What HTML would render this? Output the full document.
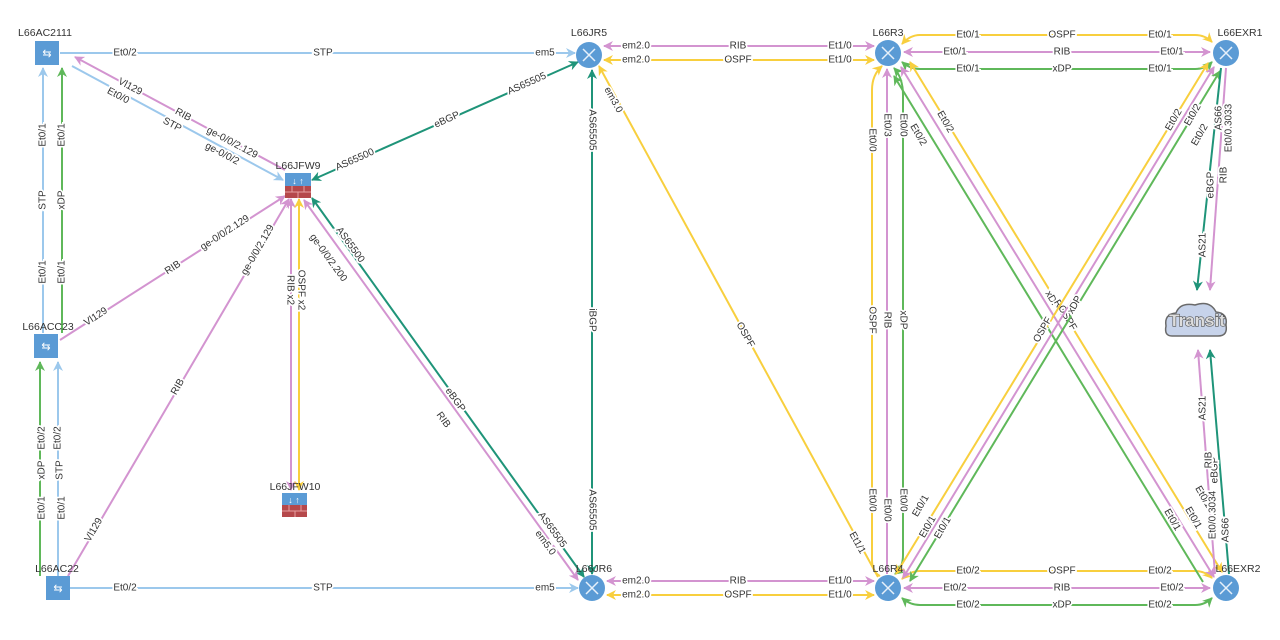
<!DOCTYPE html>
<html><head><meta charset="utf-8"><style>
html,body{margin:0;padding:0;background:#fff;}
svg{display:block}
text{font-family:"Liberation Sans",sans-serif;font-size:10px;fill:#333;}
.l{stroke:#fff;stroke-width:3.5px;paint-order:stroke;text-anchor:middle;dominant-baseline:central;}
.n{text-anchor:middle;font-size:10.5px;fill:#333;}
.b{stroke:#9cc8ec;}.p{stroke:#d394d0;}.y{stroke:#f8cf3e;}.g{stroke:#5fb85a;}.t{stroke:#1f9479;}
line,path.e{stroke-width:2;fill:none;}
</style></head><body>
<svg width="1280" height="640" viewBox="0 0 1280 640" xmlns="http://www.w3.org/2000/svg">
<defs>
<marker id="mb" markerWidth="10" markerHeight="10" refX="9" refY="5" orient="auto-start-reverse" markerUnits="userSpaceOnUse"><path d="M0,0 L10,5 L0,10 L3,5z" fill="#9cc8ec"/></marker>
<marker id="mp" markerWidth="10" markerHeight="10" refX="9" refY="5" orient="auto-start-reverse" markerUnits="userSpaceOnUse"><path d="M0,0 L10,5 L0,10 L3,5z" fill="#d394d0"/></marker>
<marker id="my" markerWidth="10" markerHeight="10" refX="9" refY="5" orient="auto-start-reverse" markerUnits="userSpaceOnUse"><path d="M0,0 L10,5 L0,10 L3,5z" fill="#f8cf3e"/></marker>
<marker id="mg" markerWidth="10" markerHeight="10" refX="9" refY="5" orient="auto-start-reverse" markerUnits="userSpaceOnUse"><path d="M0,0 L10,5 L0,10 L3,5z" fill="#5fb85a"/></marker>
<marker id="mt" markerWidth="10" markerHeight="10" refX="9" refY="5" orient="auto-start-reverse" markerUnits="userSpaceOnUse"><path d="M0,0 L10,5 L0,10 L3,5z" fill="#1f9479"/></marker>
</defs>

<line class="b" x1="60" y1="53" x2="575" y2="53" marker-end="url(#mb)"/>
<text class="l" x="125" y="53">Et0/2</text><text class="l" x="323" y="53">STP</text><text class="l" x="545" y="53">em5</text>
<line class="b" x1="70" y1="588" x2="578" y2="588" marker-end="url(#mb)"/>
<text class="l" x="125" y="588">Et0/2</text><text class="l" x="323" y="588">STP</text><text class="l" x="545" y="588">em5</text>

<line class="p" x1="75" y1="57" x2="285" y2="170" marker-start="url(#mp)"/>
<line class="b" x1="72" y1="66" x2="283" y2="180" marker-end="url(#mb)"/>
<g transform="translate(130,87) rotate(28)"><text class="l">Vl129</text></g>
<g transform="translate(183,115) rotate(28)"><text class="l">RIB</text></g>
<g transform="translate(232,143) rotate(28)"><text class="l">ge-0/0/2.129</text></g>
<g transform="translate(118,96) rotate(28)"><text class="l">Et0/0</text></g>
<g transform="translate(172,125) rotate(28)"><text class="l">STP</text></g>
<g transform="translate(222,154) rotate(28)"><text class="l">ge-0/0/2</text></g>

<line class="t" x1="312" y1="180" x2="578" y2="62" marker-start="url(#mt)" marker-end="url(#mt)"/>
<g transform="translate(355,160) rotate(-24)"><text class="l">AS65500</text></g>
<g transform="translate(447,120) rotate(-24)"><text class="l">eBGP</text></g>
<g transform="translate(527,84) rotate(-24)"><text class="l">AS65505</text></g>

<line class="b" x1="43" y1="333" x2="43" y2="68" marker-end="url(#mb)"/>
<line class="g" x1="62" y1="333" x2="62" y2="68" marker-end="url(#mg)"/>
<g transform="translate(43,135) rotate(-90)"><text class="l">Et0/1</text></g>
<g transform="translate(43,200) rotate(-90)"><text class="l">STP</text></g>
<g transform="translate(43,272) rotate(-90)"><text class="l">Et0/1</text></g>
<g transform="translate(62,135) rotate(-90)"><text class="l">Et0/1</text></g>
<g transform="translate(62,200) rotate(-90)"><text class="l">xDP</text></g>
<g transform="translate(62,272) rotate(-90)"><text class="l">Et0/1</text></g>

<line class="p" x1="60" y1="340" x2="285" y2="196" marker-end="url(#mp)"/>
<g transform="translate(96,317) rotate(-33)"><text class="l">Vl129</text></g>
<g transform="translate(173,268) rotate(-33)"><text class="l">RIB</text></g>
<g transform="translate(225,233) rotate(-33)"><text class="l">ge-0/0/2.129</text></g>

<line class="p" x1="68" y1="576" x2="289" y2="199" marker-end="url(#mp)"/>
<g transform="translate(94,530) rotate(-60)"><text class="l">Vl129</text></g>
<g transform="translate(178,387) rotate(-60)"><text class="l">RIB</text></g>
<g transform="translate(258,250) rotate(-60)"><text class="l">ge-0/0/2.129</text></g>

<line class="g" x1="40" y1="576" x2="40" y2="362" marker-end="url(#mg)"/>
<line class="b" x1="58" y1="576" x2="58" y2="362" marker-end="url(#mb)"/>
<g transform="translate(42,438) rotate(-90)"><text class="l">Et0/2</text></g>
<g transform="translate(42,470) rotate(-90)"><text class="l">xDP</text></g>
<g transform="translate(42,508) rotate(-90)"><text class="l">Et0/1</text></g>
<g transform="translate(58,438) rotate(-90)"><text class="l">Et0/2</text></g>
<g transform="translate(60,470) rotate(-90)"><text class="l">STP</text></g>
<g transform="translate(62,508) rotate(-90)"><text class="l">Et0/1</text></g>

<line class="p" x1="291" y1="490" x2="291" y2="199" marker-start="url(#mp)" marker-end="url(#mp)"/>
<line class="y" x1="299" y1="490" x2="299" y2="199" marker-start="url(#my)" marker-end="url(#my)"/>
<g transform="translate(290,290) rotate(90)"><text class="l">RIB x2</text></g>
<g transform="translate(301,290) rotate(90)"><text class="l">OSPF x2</text></g>

<line class="t" x1="312" y1="198" x2="584" y2="577" marker-start="url(#mt)" marker-end="url(#mt)"/>
<line class="p" x1="304" y1="200" x2="578" y2="580" marker-start="url(#mp)" marker-end="url(#mp)"/>
<g transform="translate(350,245) rotate(54)"><text class="l">AS65500</text></g>
<g transform="translate(455,400) rotate(54)"><text class="l">eBGP</text></g>
<g transform="translate(552,530) rotate(54)"><text class="l">AS65505</text></g>
<g transform="translate(328,258) rotate(54)"><text class="l">ge-0/0/2.200</text></g>
<g transform="translate(443,420) rotate(54)"><text class="l">RIB</text></g>
<g transform="translate(545,543) rotate(54)"><text class="l">em5.0</text></g>

<line class="t" x1="592" y1="70" x2="592" y2="574" marker-start="url(#mt)" marker-end="url(#mt)"/>
<g transform="translate(592,130) rotate(90)"><text class="l">AS65505</text></g>
<g transform="translate(592,320) rotate(90)"><text class="l">iBGP</text></g>
<g transform="translate(592,510) rotate(90)"><text class="l">AS65505</text></g>

<line class="y" x1="599" y1="66" x2="878" y2="577" marker-start="url(#my)"/>
<g transform="translate(613,100) rotate(61)"><text class="l">em3.0</text></g>
<g transform="translate(745,335) rotate(61)"><text class="l">OSPF</text></g>
<g transform="translate(857,543) rotate(61)"><text class="l">Et1/1</text></g>

<line class="p" x1="604" y1="46" x2="874" y2="46" marker-start="url(#mp)" marker-end="url(#mp)"/>
<line class="y" x1="604" y1="60" x2="874" y2="60" marker-start="url(#my)" marker-end="url(#my)"/>
<text class="l" x="636" y="46">em2.0</text><text class="l" x="738" y="46">RIB</text><text class="l" x="840" y="46">Et1/0</text>
<text class="l" x="636" y="60">em2.0</text><text class="l" x="738" y="60">OSPF</text><text class="l" x="840" y="60">Et1/0</text>
<line class="p" x1="607" y1="581" x2="874" y2="581" marker-start="url(#mp)" marker-end="url(#mp)"/>
<line class="y" x1="607" y1="595" x2="874" y2="595" marker-start="url(#my)" marker-end="url(#my)"/>
<text class="l" x="636" y="581">em2.0</text><text class="l" x="738" y="581">RIB</text><text class="l" x="840" y="581">Et1/0</text>
<text class="l" x="636" y="595">em2.0</text><text class="l" x="738" y="595">OSPF</text><text class="l" x="840" y="595">Et1/0</text>

<path class="e y" d="M902,44 Q910,35 920,35 L1195,35 Q1205,35 1212,42" marker-start="url(#my)" marker-end="url(#my)"/>
<line class="p" x1="904" y1="52" x2="1210" y2="52" marker-start="url(#mp)" marker-end="url(#mp)"/>
<path class="e g" d="M902,62 Q910,69 920,69 L1195,69 Q1205,69 1212,62" marker-start="url(#mg)" marker-end="url(#mg)"/>
<text class="l" x="968" y="35">Et0/1</text><text class="l" x="1062" y="35">OSPF</text><text class="l" x="1160" y="35">Et0/1</text>
<text class="l" x="955" y="52">Et0/1</text><text class="l" x="1062" y="52">RIB</text><text class="l" x="1172" y="52">Et0/1</text>
<text class="l" x="968" y="69">Et0/1</text><text class="l" x="1062" y="69">xDP</text><text class="l" x="1160" y="69">Et0/1</text>
<path class="e y" d="M902,579 Q910,571 920,571 L1195,571 Q1205,571 1212,578" marker-start="url(#my)" marker-end="url(#my)"/>
<line class="p" x1="904" y1="588" x2="1210" y2="588" marker-start="url(#mp)" marker-end="url(#mp)"/>
<path class="e g" d="M902,598 Q910,605 920,605 L1195,605 Q1205,605 1212,598" marker-start="url(#mg)" marker-end="url(#mg)"/>
<text class="l" x="968" y="571">Et0/2</text><text class="l" x="1062" y="571">OSPF</text><text class="l" x="1160" y="571">Et0/2</text>
<text class="l" x="955" y="588">Et0/2</text><text class="l" x="1062" y="588">RIB</text><text class="l" x="1172" y="588">Et0/2</text>
<text class="l" x="968" y="605">Et0/2</text><text class="l" x="1062" y="605">xDP</text><text class="l" x="1160" y="605">Et0/2</text>

<path class="e y" d="M882,66 Q872,75 872,90 L872,560 Q872,572 880,576" marker-start="url(#my)"/>
<line class="p" x1="887" y1="69" x2="887" y2="574" marker-start="url(#mp)"/>
<path class="e g" d="M894,68 Q903,78 903,95 L903,555 Q903,568 895,574" marker-start="url(#mg)" marker-end="url(#mg)"/>
<g transform="translate(872,140) rotate(90)"><text class="l">Et0/0</text></g>
<g transform="translate(887,125) rotate(90)"><text class="l">Et0/3</text></g>
<g transform="translate(903,125) rotate(90)"><text class="l">Et0/0</text></g>
<g transform="translate(872,320) rotate(90)"><text class="l">OSPF</text></g>
<g transform="translate(887,320) rotate(90)"><text class="l">RIB</text></g>
<g transform="translate(903,320) rotate(90)"><text class="l">xDP</text></g>
<g transform="translate(872,500) rotate(90)"><text class="l">Et0/0</text></g>
<g transform="translate(887,510) rotate(90)"><text class="l">Et0/0</text></g>
<g transform="translate(903,500) rotate(90)"><text class="l">Et0/0</text></g>

<line class="g" x1="894" y1="76" x2="1203" y2="582" marker-start="url(#mg)"/>
<line class="p" x1="901" y1="67" x2="1214" y2="577" marker-start="url(#mp)" marker-end="url(#mp)"/>
<line class="y" x1="910" y1="62" x2="1222" y2="572" marker-start="url(#my)" marker-end="url(#my)"/>
<g transform="translate(918,135) rotate(60)"><text class="l">Et0/2</text></g>
<g transform="translate(945,122) rotate(60)"><text class="l">Et0/2</text></g>
<g transform="translate(1052,300) rotate(60)"><text class="l">xDP</text></g>
<g transform="translate(1060,308) rotate(60)"><text class="l">RIB</text></g>
<g transform="translate(1067,318) rotate(60)"><text class="l">OSPF</text></g>
<g transform="translate(1172,520) rotate(60)"><text class="l">Et0/1</text></g>
<g transform="translate(1193,518) rotate(60)"><text class="l">Et0/1</text></g>
<g transform="translate(1203,497) rotate(60)"><text class="l">Et0/1</text></g>
<line class="y" x1="896" y1="574" x2="1208" y2="63" marker-start="url(#my)" marker-end="url(#my)"/>
<line class="p" x1="903" y1="578" x2="1214" y2="67" marker-start="url(#mp)" marker-end="url(#mp)"/>
<line class="g" x1="910" y1="581" x2="1220" y2="71" marker-start="url(#mg)" marker-end="url(#mg)"/>
<g transform="translate(921,506) rotate(-60)"><text class="l">Et0/1</text></g>
<g transform="translate(928,527) rotate(-60)"><text class="l">Et0/1</text></g>
<g transform="translate(943,528) rotate(-60)"><text class="l">Et0/1</text></g>
<g transform="translate(1043,330) rotate(-60)"><text class="l">OSPF</text></g>
<g transform="translate(1075,305) rotate(-60)"><text class="l">xDP</text></g>
<g transform="translate(1174,120) rotate(-60)"><text class="l">Et0/2</text></g>
<g transform="translate(1193,115) rotate(-60)"><text class="l">Et0/2</text></g>
<g transform="translate(1200,135) rotate(-60)"><text class="l">Et0/2</text></g>

<line class="t" x1="1221" y1="68" x2="1197" y2="290" marker-end="url(#mt)"/>
<line class="p" x1="1226" y1="68" x2="1210" y2="290" marker-end="url(#mp)"/>
<g transform="translate(1219,118) rotate(-90)"><text class="l">AS66</text></g>
<g transform="translate(1211,185) rotate(-90)"><text class="l">eBGP</text></g>
<g transform="translate(1203,245) rotate(-90)"><text class="l">AS21</text></g>
<g transform="translate(1229,128) rotate(-90)"><text class="l">Et0/0.3033</text></g>
<g transform="translate(1224,175) rotate(-90)"><text class="l">RIB</text></g>
<line class="p" x1="1215" y1="574" x2="1198" y2="350" marker-end="url(#mp)"/>
<line class="t" x1="1229" y1="574" x2="1210" y2="350" marker-end="url(#mt)"/>
<g transform="translate(1203,408) rotate(-90)"><text class="l">AS21</text></g>
<g transform="translate(1215,470) rotate(-90)"><text class="l">eBGP</text></g>
<g transform="translate(1226,530) rotate(-90)"><text class="l">AS66</text></g>
<g transform="translate(1209,460) rotate(-90)"><text class="l">RIB</text></g>
<g transform="translate(1213,515) rotate(-90)"><text class="l">Et0/0.3034</text></g>

<path d="M1172,336 Q1164,336 1166,326 Q1164,314 1176,313 Q1180,302 1195,305 Q1210,300 1216,312 Q1228,313 1226,325 Q1228,336 1218,336 Z" fill="#c7d3ea" stroke="#6a6a6a" stroke-width="1.5"/>
<text x="1197" y="326" text-anchor="middle" style="font-size:17px;font-weight:bold;fill:#ddd;stroke:#555;stroke-width:1.2px;paint-order:stroke">Transit</text>

<g>
<rect x="35" y="41" width="24" height="24" fill="#5b9bd5"/><text x="47" y="57" text-anchor="middle" style="fill:#fff;font-size:11px">⇆</text>
<text class="n" x="45" y="36">L66AC2111</text>
<rect x="34" y="334" width="24" height="24" fill="#5b9bd5"/><text x="46" y="350" text-anchor="middle" style="fill:#fff;font-size:11px">⇆</text>
<text class="n" x="48" y="330">L66ACC23</text>
<rect x="46" y="576" width="24" height="24" fill="#5b9bd5"/><text x="58" y="592" text-anchor="middle" style="fill:#fff;font-size:11px">⇆</text>
<text class="n" x="57" y="572">L66AC22</text>
</g>
<g>
<rect x="285" y="173" width="26" height="13" fill="#5b9bd5"/><text x="298" y="184" text-anchor="middle" style="fill:#fff;font-size:9px">↓ ↑</text>
<rect x="285" y="186" width="26" height="12" fill="#b5484b"/><path d="M285,192 H311 M292,186 V192 M304,186 V192 M298,192 V198" stroke="#e8a0a0" stroke-width="1"/>
<text class="n" x="298" y="169">L66JFW9</text>
<rect x="282" y="493" width="25" height="12" fill="#5b9bd5"/><text x="294" y="503" text-anchor="middle" style="fill:#fff;font-size:9px">↓ ↑</text>
<rect x="282" y="505" width="25" height="12" fill="#b5484b"/><path d="M282,511 H307 M289,505 V511 M301,505 V511 M295,511 V517" stroke="#e8a0a0" stroke-width="1"/>
<text class="n" x="295" y="490">L66JFW10</text>
</g>
<g>
<g transform="translate(589,55)"><circle r="13" fill="#5b9bd5"/><path d="M-6,-6 L6,6 M6,-6 L-6,6" stroke="#e6f0fa" stroke-width="1.5"/></g>
<text class="n" x="589" y="36">L66JR5</text>
<g transform="translate(592,588)"><circle r="13" fill="#5b9bd5"/><path d="M-6,-6 L6,6 M6,-6 L-6,6" stroke="#e6f0fa" stroke-width="1.5"/></g>
<text class="n" x="594" y="572">L66JR6</text>
<g transform="translate(888,53)"><circle r="13" fill="#5b9bd5"/><path d="M-6,-6 L6,6 M6,-6 L-6,6" stroke="#e6f0fa" stroke-width="1.5"/></g>
<text class="n" x="888" y="36">L66R3</text>
<g transform="translate(888,588)"><circle r="13" fill="#5b9bd5"/><path d="M-6,-6 L6,6 M6,-6 L-6,6" stroke="#e6f0fa" stroke-width="1.5"/></g>
<text class="n" x="888" y="572">L66R4</text>
<g transform="translate(1226,53)"><circle r="13" fill="#5b9bd5"/><path d="M-6,-6 L6,6 M6,-6 L-6,6" stroke="#e6f0fa" stroke-width="1.5"/></g>
<text class="n" x="1240" y="36">L66EXR1</text>
<g transform="translate(1226,588)"><circle r="13" fill="#5b9bd5"/><path d="M-6,-6 L6,6 M6,-6 L-6,6" stroke="#e6f0fa" stroke-width="1.5"/></g>
<text class="n" x="1238" y="572">L66EXR2</text>
</g>
</svg>
</body></html>
